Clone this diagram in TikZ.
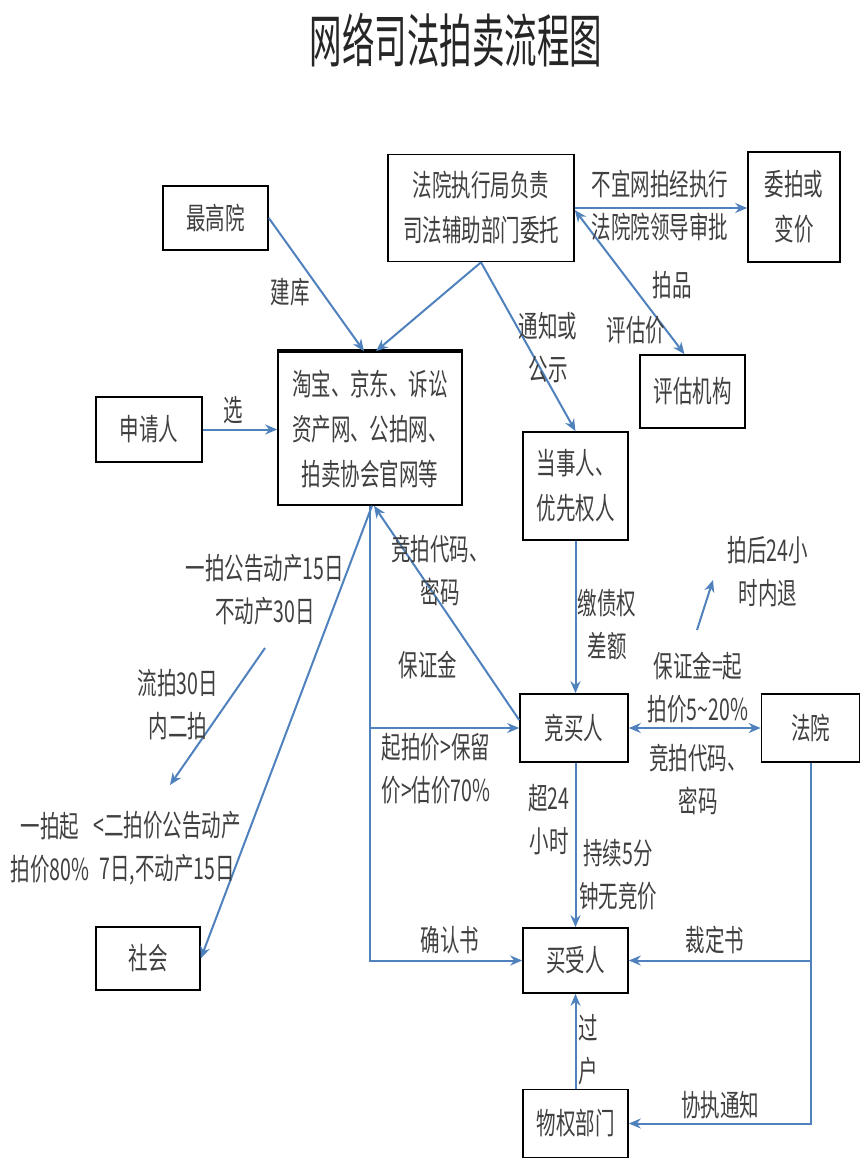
\documentclass[tikz,border=0pt]{standalone}
\usepackage{fontspec}
\setmainfont[FakeStretch=0.65]{Noto Sans CJK SC}
\newfontfamily\titlefont[FakeStretch=0.56]{Noto Sans CJK SC}
\usepackage{tikz}
\usetikzlibrary{arrows.meta,positioning}
\definecolor{lineblue}{RGB}{79,129,189}
\definecolor{txtgray}{RGB}{64,64,64}
\tikzset{
mybox/.style={
  draw=black,
  line width=0.8pt,
  fill=white,
  text=txtgray,
  align=center,
  inner sep=2pt,
  font=\fontsize{15}{22.5}\selectfont
  },
boxwh/.style 2 args={
  minimum width=#1,
  minimum height=#2
  },
mylbl/.style={
  text=txtgray,
  align=center,
  inner sep=0pt,
  font=\fontsize{15}{21.5}\selectfont
  },
flow/.style={draw=lineblue, line width=1pt}
}

\begin{document}
\begin{tikzpicture}[x=0.5pt,y=-0.5pt,>={Stealth[length=6pt,width=5pt]}]
\useasboundingbox (0,0) rectangle (860,1158);

\node[text=black!85,font=\titlefont\fontsize{29}{32}\selectfont] (title) at (456,40) {网络司法拍卖流程图};

% boxes
\node[mybox,boxwh={52.5pt}{32pt}] (supreme) at (215.5,218) {最高院};
\node[mybox,boxwh={93pt}{53.5pt}] (exec) at (481,208) {法院执行局负责\\司法辅助部门委托};
\node[mybox,boxwh={46pt}{55pt}] (entrust) at (794,207) {委拍或\\变价};
\node[mybox,boxwh={52.5pt}{36.5pt}] (appraise) at (692.5,391.5) {评估机构};
\node[mybox,boxwh={92pt}{76.5pt}] (platform) at (370,428.5) {淘宝、京东、诉讼\\资产网、公拍网、\\拍卖协会官网等};
\node[mybox,boxwh={53pt}{32.5pt}] (applicant) at (149,429.5) {申请人};
\node[mybox,boxwh={52.5pt}{54pt}] (party) at (575.5,486) {当事人、\\优先权人};
\node[mybox,boxwh={54pt}{34pt}] (bidder) at (574,728) {竞买人};
\node[mybox,boxwh={49pt}{34pt}] (court) at (810.5,728) {法院};
\node[mybox,boxwh={52.5pt}{32.5pt}] (buyer) at (575.5,960.5) {买受人};
\node[mybox,boxwh={52pt}{31.5pt}] (society) at (148,958.5) {社会};
\node[mybox,boxwh={52.5pt}{34pt}] (registry) at (575.5,1123.5) {物权部门};
\draw[line width=2pt] (platform.north west) -- (platform.north east);

% connectors
\draw[flow,->] (supreme.east) -- ([xshift=-3pt]platform.north);
\draw[flow,->] (exec.south) -- ([xshift=3pt]platform.north);
\draw[flow,->] (exec.south) -- (party.north);
\draw[flow,->] (exec.east) -- (exec.east -| entrust.west);
\draw[flow,<->] ([yshift=-1pt]exec.east) -- ([xshift=-4pt]appraise.north);
\draw[flow,->] (applicant.east) -- (platform.west |- applicant.east);
\draw[flow,->] ([xshift=1pt]platform.south) -- (society.east);
\draw[flow,->] (platform.south) -- (platform.south |- buyer.west) -- (buyer.west);
\draw[flow,->] (platform.south |- bidder.west) -- (bidder.west);
\draw[flow,->] ([yshift=4pt]bidder.west) -- ([xshift=2pt]platform.south);
\draw[flow,->] (party.south) -- (party.south |- bidder.north);
\draw[flow,<->] (bidder.east) -- (court.west);
\draw[flow,->] (bidder.south -| buyer.north) -- (buyer.north);
\draw[flow,->] (court.south) -- (court.south |- registry.east) -- (registry.east);
\draw[flow,->] (court.south |- buyer.east) -- (buyer.east);
\draw[flow,->] (registry.north) -- (buyer.south);

\coordinate (lp1) at (265,648);
\coordinate (lp2) at (170,785);
\draw[flow,->] (lp1) -- (lp2);
\coordinate (rf1) at (697,630);
\coordinate (rf2) at (713,580);
\draw[flow,->] (rf1) -- (rf2);

% labels
\node[mylbl] (l-build) at (290,292) {建库};
\node[mylbl] (l-notice) at (548,348) {通知或\\公示};
\node[mylbl] (l-approve) at (660,206) {不宜网拍经执行\\法院院领导审批};
\node[mylbl] (l-item) at (672,285) {拍品};
\node[mylbl] (l-price) at (636,330) {评估价};
\node[mylbl] (l-choose) at (233,410) {选};
\node[mylbl] (l-first) at (265,590) {一拍公告动产15日\\不动产30日};
\node[mylbl] (l-code1) at (440,570) {竞拍代码、\\密码};
\node[mylbl] (l-deposit1) at (428,665) {保证金};
\node[mylbl] (l-second) at (178,705) {流拍30日\\内二拍};
\node[mylbl] (l-start) at (436,769) {起拍价>保留\\价>估价70\%};
\node[mylbl] (l-first80) at (50,848) {一拍起\\拍价80\%};
\node[mylbl] (l-second15) at (167,848) {<二拍价公告动产\\7日,不动产15日};
\node[mylbl] (l-debt) at (607,625) {缴债权\\差额};
\node[mylbl] (l-refund) at (768,572) {拍后24小\\时内退};
\node[mylbl] (l-deposit2) at (698,688) {保证金=起\\拍价5\textasciitilde20\%};
\node[mylbl] (l-code2) at (698,779) {竞拍代码、\\密码};
\node[mylbl] (l-24h) at (549,820) {超24\\小时};
\node[mylbl] (l-5min) at (618,875) {持续5分\\钟无竞价};
\node[mylbl] (l-confirm) at (450,940) {确认书};
\node[mylbl] (l-ruling) at (715,940) {裁定书};
\node[mylbl] (l-transfer) at (588,1050) {过\\户};
\node[mylbl] (l-assist) at (720,1105) {协执通知};
\end{tikzpicture}
\end{document}
